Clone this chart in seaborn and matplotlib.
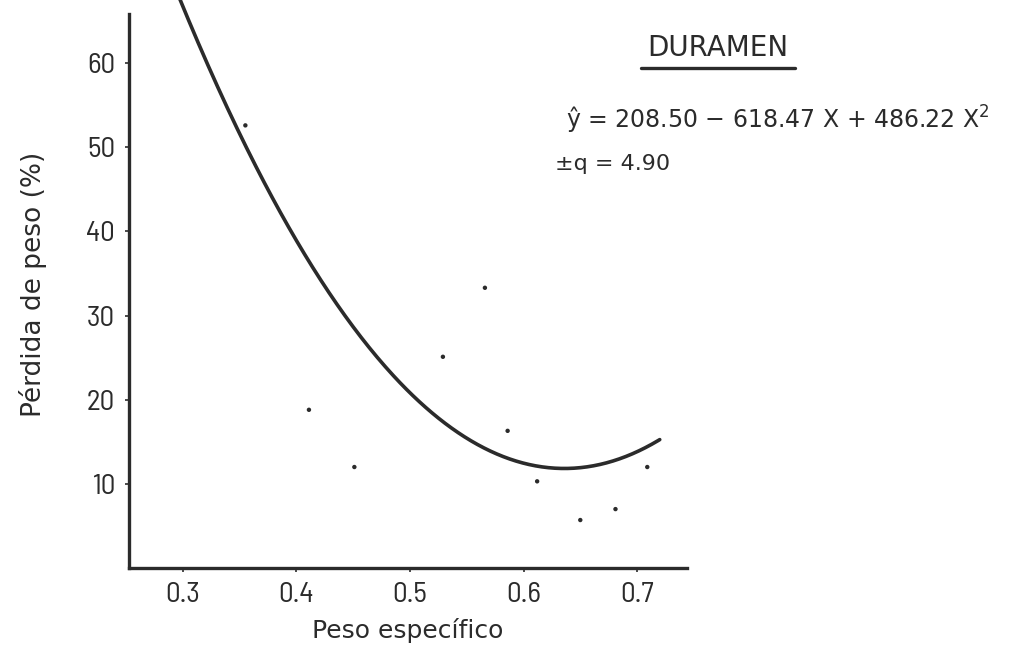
import numpy as np
import pandas as pd
import matplotlib
matplotlib.use("Agg")
import matplotlib.pyplot as plt
from matplotlib.lines import Line2D
import seaborn as sns

# Observed heartwood samples: specific gravity vs. weight loss (%)
peso_especifico = [0.355, 0.411, 0.451, 0.529, 0.566, 0.586, 0.612, 0.650, 0.681, 0.709]
perdida_peso = [52.6, 18.8, 12.0, 25.1, 33.3, 16.3, 10.3, 5.7, 7.0, 12.0]

# Quadratic regression coefficients: y = b0 + b1*x + b2*x^2
b0, b1, b2 = 208.50, -618.47, 486.22
curve_range = (0.295, 0.720)

x_ticks = [0.3, 0.4, 0.5, 0.6, 0.7]
y_ticks = [10, 20, 30, 40, 50, 60]

ink = "#2b2b2b"

sns.set_theme(style="white")
plt.rcParams["font.family"] = ["DejaVu Sans"]

W, H = 1026, 656
fig = plt.figure(figsize=(W / 100, H / 100), dpi=100)
ax = fig.add_axes([129 / W, 1 - 568 / H, (687 - 129) / W, 568 / H])

points = pd.DataFrame({"x": peso_especifico, "y": perdida_peso})
sns.scatterplot(data=points, x="x", y="y", ax=ax, color=ink, s=10,
                edgecolor="none", zorder=3)

xs = np.linspace(*curve_range, 300)
fit = pd.DataFrame({"x": xs, "y": b0 + b1 * xs + b2 * xs ** 2})
sns.lineplot(data=fit, x="x", y="y", ax=ax, color=ink, linewidth=2.6)

ax.set_xlim(0.2525, 0.744)
ax.set_ylim(0, 67.5)
ax.spines[["top", "right"]].set_visible(False)
for side in ("left", "bottom"):
    ax.spines[side].set_color(ink)
    ax.spines[side].set_linewidth(2.4)
ax.spines["left"].set_bounds(0, 65.8)

tick_font = dict(family=["Barlow Semi Condensed", "Barlow Condensed",
                         "Roboto Condensed", "DejaVu Sans"],
                 size=21, weight="normal")
ax.set_xticks(x_ticks)
ax.set_xticklabels([f"{v:.1f}" for v in x_ticks], color=ink, **tick_font)
ax.set_yticks(y_ticks)
ax.set_yticklabels([str(v) for v in y_ticks], color=ink, **tick_font)
ax.tick_params(axis="both", direction="out", length=3, width=1.2,
               color=ink, left=True, bottom=True)
ax.tick_params(axis="y", pad=7)
ax.tick_params(axis="x", pad=7)

ax.set_xlabel("Peso específico", fontsize=18, color=ink, labelpad=7)
ax.set_ylabel("Pérdida de peso (%)", fontsize=19, color=ink, labelpad=28)
ax.grid(False)

# Panel heading and regression summary
title = fig.text(718 / W, 1 - 48 / H, "DURAMEN", fontsize=20, color=ink,
                 ha="center", va="center")
fig.text(566 / W, 1 - 120 / H, "ŷ = 208.50 − 618.47 X + 486.22 X$^{2}$",
         fontsize=17, color=ink, ha="left", va="center")
fig.text(555 / W, 1 - 164 / H, "±q = 4.90", fontsize=16, color=ink,
         ha="left", va="center")

fig.canvas.draw()
bb = title.get_window_extent().transformed(fig.transFigure.inverted())
fig.add_artist(Line2D([bb.x0 - 0.006, bb.x1 + 0.006], [1 - 68 / H] * 2,
                      transform=fig.transFigure, color=ink, linewidth=2.4))

fig.savefig("out.png", dpi=100, facecolor="white")
